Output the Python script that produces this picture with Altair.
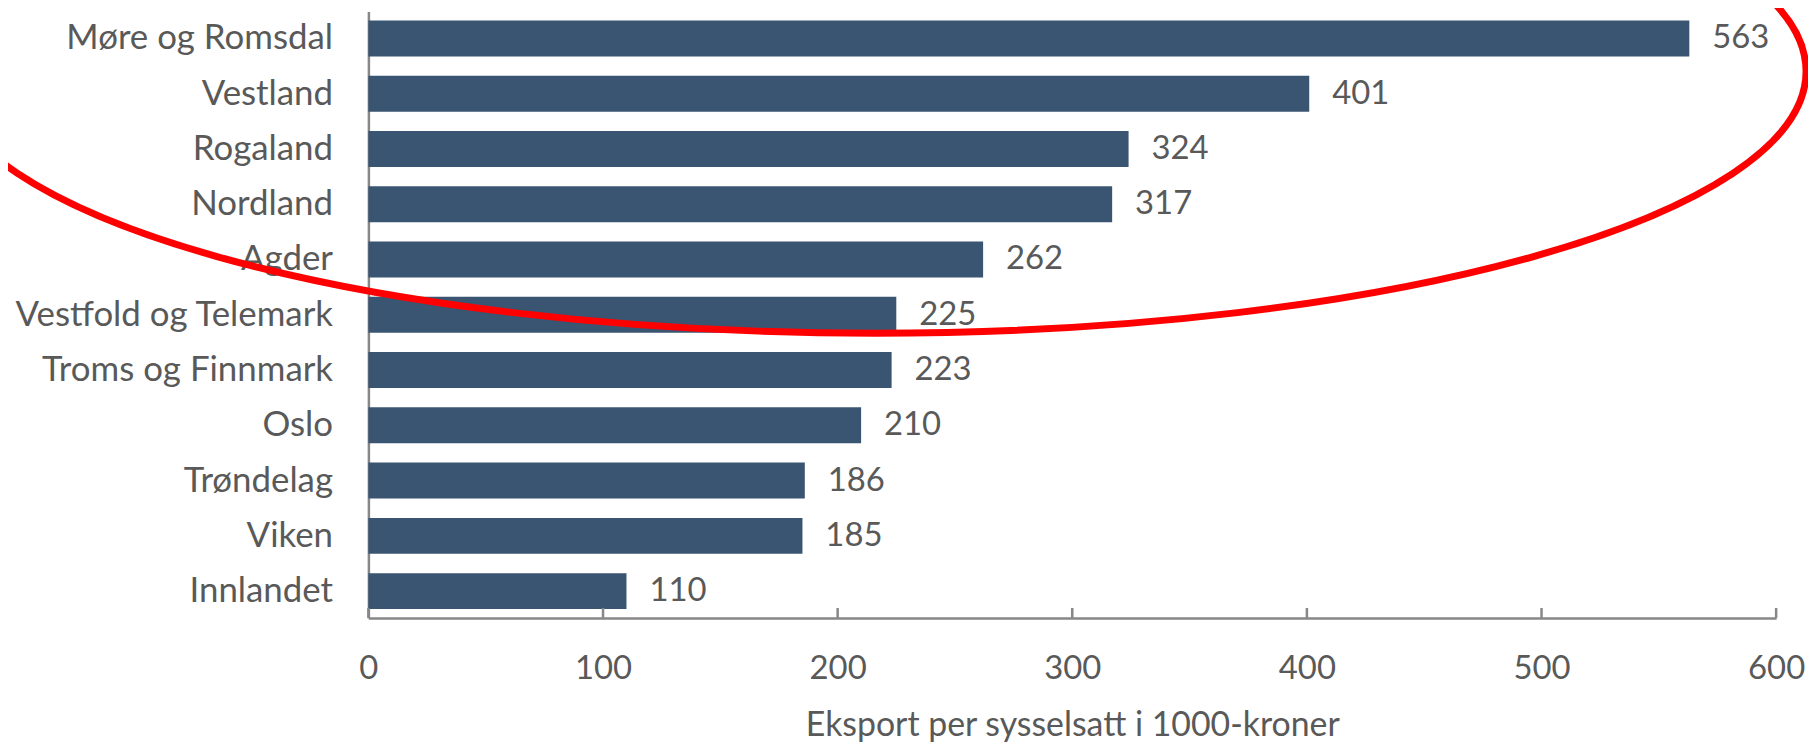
import altair as alt
import pandas as pd

# --- data ---
regions = ["Møre og Romsdal", "Vestland", "Rogaland", "Nordland", "Agder",
           "Vestfold og Telemark", "Troms og Finnmark", "Oslo", "Trøndelag",
           "Viken", "Innlandet"]
values = [563, 401, 324, 317, 262, 225, 223, 210, 186, 185, 110]
tick_values = [0, 100, 200, 300, 400, 500, 600]
x_title = "Eksport per sysselsatt i 1000-kroner"

# highlight annotation (red ellipse) centre, in data units on the x axis
highlight_x = [216]

df = pd.DataFrame({"region": regions, "value": values})
ticks_df = pd.DataFrame({"t": tick_values})
hl_df = pd.DataFrame({"hx": highlight_x})

W, H = 1414, 609
FONT = "Lato"
TXT = "#595959"
AX = "#878787"
BAR = "#3A5572"

x_scale = alt.Scale(domain=[0, 600], nice=False)

base = alt.Chart(df)

bars = base.mark_bar(color=BAR).encode(
    x=alt.X("value:Q", scale=x_scale,
            axis=alt.Axis(values=tick_values, title=x_title, ticks=False,
                          grid=False, domainColor=AX, domainWidth=2.5,
                          labelFont=FONT, labelFontSize=33, labelColor=TXT,
                          labelPadding=51, labelBaseline="middle",
                          labelFlush=False, labelOverlap=False,
                          titleFont=FONT, titleFontSize=34, titleColor=TXT,
                          titleFontWeight="normal", titleY=108,
                          titleBaseline="middle")),
    y=alt.Y("region:N", sort=regions,
            scale=alt.Scale(paddingInner=0.35, paddingOuter=0.16),
            axis=alt.Axis(title=None, ticks=False, domainColor=AX,
                          domainWidth=2.5, labelFont=FONT, labelFontSize=35,
                          labelColor=TXT, labelPadding=36, labelLimit=600)),
)

labels = base.mark_text(align="left", baseline="middle", dx=23,
                        font=FONT, fontSize=33, color=TXT).encode(
    x=alt.X("value:Q", scale=x_scale),
    y=alt.Y("region:N", sort=regions),
    text=alt.Text("value:Q"),
)

ticks = alt.Chart(ticks_df).mark_rule(color=AX, strokeWidth=2.5).encode(
    x=alt.X("t:Q", scale=x_scale),
    y=alt.value(H - 10),
    y2=alt.value(H),
)

r = 263 / 935
k = 0.5523
ellipse_path = (
    f"M -1 0 C -1 {-k*r:.4f} {-k:.4f} {-r:.4f} 0 {-r:.4f} "
    f"C {k:.4f} {-r:.4f} 1 {-k*r:.4f} 1 0 "
    f"C 1 {k*r:.4f} {k:.4f} {r:.4f} 0 {r:.4f} "
    f"C {-k:.4f} {r:.4f} -1 {k*r:.4f} -1 0 Z"
)

ellipse = alt.Chart(hl_df).mark_point(
    shape=ellipse_path, size=1870 ** 2, filled=False,
    stroke="#FF0000", strokeWidth=7, opacity=1,
).encode(
    x=alt.X("hx:Q", scale=x_scale),
    y=alt.value(60),
)

chart = alt.layer(bars, labels, ticks, ellipse).properties(
    width=W, height=H,
    autosize=alt.AutoSizeParams(type="none"),
    padding={"left": 362, "top": 2, "right": 32, "bottom": 125},
    background="white",
).configure_view(stroke=None)

chart.save("out.html", embed_options={"renderer": "svg", "actions": False})
